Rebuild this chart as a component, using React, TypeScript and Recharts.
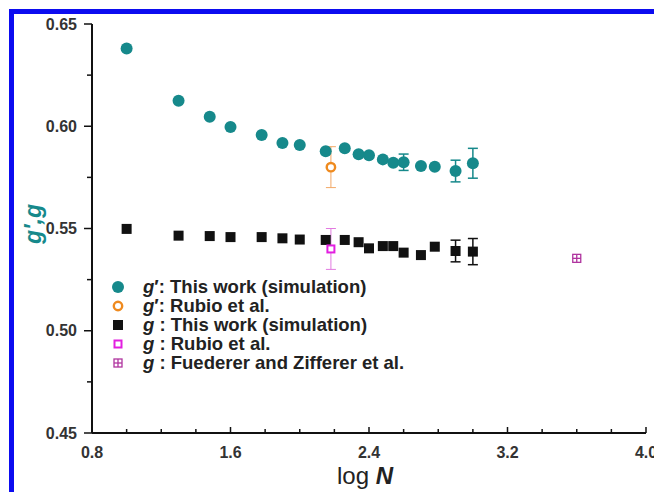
import React from "react";
import { ScatterChart, Scatter, XAxis, YAxis, ErrorBar, Legend } from "recharts";

// log N of the simulated chains
const logN = [1.0, 1.3, 1.48, 1.6, 1.78, 1.9, 2.0, 2.15, 2.26, 2.34, 2.4, 2.48, 2.54, 2.6, 2.7, 2.78, 2.9, 3.0];

// g' : this work (simulation)
const gPrimeSim = [0.638, 0.6125, 0.6046, 0.5996, 0.5957, 0.5918, 0.5908, 0.5878, 0.5892, 0.5863, 0.5858, 0.5838, 0.5822, 0.5824, 0.5806, 0.5802, 0.5781, 0.5819];
const gPrimeSimErr = [0, 0, 0, 0, 0, 0, 0, 0, 0, 0, 0, 0, 0, 0.004, 0, 0, 0.0053, 0.0073];

// g : this work (simulation)
const gSim = [0.5498, 0.5465, 0.5463, 0.5458, 0.5458, 0.5452, 0.5446, 0.5444, 0.5444, 0.5433, 0.5403, 0.5414, 0.5414, 0.5382, 0.537, 0.5411, 0.539, 0.5387];
const gSimErr = [0, 0, 0, 0, 0, 0, 0, 0, 0, 0, 0, 0, 0, 0, 0, 0, 0.0053, 0.0064];

// literature values
const rubioLogN = [2.18];
const rubioGPrime = [0.58];
const rubioGPrimeErr = [0.01];
const rubioG = [0.54];
const rubioGErr = [0.01];
const fuedererLogN = [3.6];
const fuedererG = [0.5354];

const xTicks = [0.8, 1.0, 1.2, 1.4, 1.6, 1.8, 2.0, 2.2, 2.4, 2.6, 2.8, 3.0, 3.2, 3.4, 3.6, 3.8, 4.0];
const yTicks = [0.45, 0.475, 0.5, 0.525, 0.55, 0.575, 0.6, 0.625, 0.65];

const TEAL = "#16898b";
const ORANGE = "#ef8a1e";
const MAGENTA = "#e21ee0";
const PURPLE = "#b0359f";
const FONT = "'Liberation Sans', Arial, sans-serif";

const toPoints = (xs: number[], ys: number[], errs?: number[]) =>
  xs.map((x, i) => ({ x, y: ys[i], err: errs && errs[i] ? errs[i] : undefined }));

const gPrimeData = toPoints(logN, gPrimeSim, gPrimeSimErr);
const gData = toPoints(logN, gSim, gSimErr);
const rubioGPrimeData = toPoints(rubioLogN, rubioGPrime, rubioGPrimeErr);
const rubioGData = toPoints(rubioLogN, rubioG, rubioGErr);
const fuedererData = toPoints(fuedererLogN, fuedererG);

const TealDot = (p: any) => <circle cx={p.cx} cy={p.cy} r={6} fill={TEAL} />;
const OpenCircle = (p: any) => (
  <circle cx={p.cx} cy={p.cy} r={4.2} fill="#fff" stroke={ORANGE} strokeWidth={2.4} />
);
const BlackSquare = (p: any) => <rect x={p.cx - 5} y={p.cy - 5} width={10} height={10} fill="#111" />;
const OpenSquare = (p: any) => (
  <rect x={p.cx - 3.5} y={p.cy - 3.5} width={7} height={7} fill="#fff" stroke={MAGENTA} strokeWidth={2} />
);
const CrossSquare = (p: any) => (
  <g stroke={PURPLE} strokeWidth={1.3} fill="#fff">
    <rect x={p.cx - 4} y={p.cy - 4} width={8} height={8} />
    <line x1={p.cx - 4} y1={p.cy} x2={p.cx + 4} y2={p.cy} />
    <line x1={p.cx} y1={p.cy - 4} x2={p.cx} y2={p.cy + 4} />
  </g>
);

const isMajor = (v: number, step: number) => Math.abs(v / step - Math.round(v / step)) < 1e-6;

const XTick = (p: any) => {
  const v = p.payload.value;
  const major = isMajor(v, 0.8);
  return (
    <g>
      <line x1={p.x} y1={p.y} x2={p.x} y2={p.y - (major ? 6 : 4)} stroke="#111" strokeWidth={1.5} />
      {major && (
        <text x={p.x} y={p.y + 25} textAnchor="middle" fontFamily={FONT} fontWeight="bold" fontSize={16} fill="#333">
          {v.toFixed(1)}
        </text>
      )}
    </g>
  );
};

const YTick = (p: any) => {
  const v = p.payload.value;
  const major = isMajor(v, 0.05);
  return (
    <g>
      <line x1={p.x} y1={p.y} x2={p.x - (major ? 8 : 5)} y2={p.y} stroke="#111" strokeWidth={1.5} />
      {major && (
        <text x={p.x - 15} y={p.y + 5.5} textAnchor="end" fontFamily={FONT} fontWeight="bold" fontSize={16} fill="#333">
          {v.toFixed(2)}
        </text>
      )}
    </g>
  );
};

const legendRows = [
  { sym: "tealDot", prime: "′", text: ": This work (simulation)" },
  { sym: "openCircle", prime: "′", text: ": Rubio et al." },
  { sym: "blackSquare", prime: "", text: " : This work (simulation)" },
  { sym: "openSquare", prime: "", text: " : Rubio et al." },
  { sym: "crossSquare", prime: "", text: " : Fuederer and Zifferer et al." },
];

const legendSymbol = (sym: string) => {
  const c = { cx: 7, cy: 7 };
  if (sym === "tealDot") return <TealDot {...c} />;
  if (sym === "openCircle") return <OpenCircle {...c} />;
  if (sym === "blackSquare") return <BlackSquare {...c} />;
  if (sym === "openSquare") return <OpenSquare {...c} />;
  return <CrossSquare {...c} />;
};

const renderLegend = () => (
  <div style={{ fontFamily: FONT, fontWeight: "bold", fontSize: 18.5, lineHeight: "19px", color: "#222" }}>
    {legendRows.map((r) => (
      <div key={r.text + r.sym} style={{ display: "flex", alignItems: "center", height: 19 }}>
        <svg width={14} height={14} style={{ marginRight: 18 }}>
          {legendSymbol(r.sym)}
        </svg>
        <span style={{ whiteSpace: "nowrap" }}>
          <i>g</i>
          {r.prime}
          {r.text}
        </span>
      </div>
    ))}
  </div>
);

export default function App() {
  return (
    <div style={{ position: "absolute", left: 0, top: 0, width: 654, height: 492, background: "#fff", overflow: "hidden" }}>
      <div style={{ position: "absolute", left: 9, top: 9, width: 5, height: 483, background: "#0c0cf0" }} />
      <div style={{ position: "absolute", left: 9, top: 9, width: 645, height: 5, background: "#0c0cf0" }} />
      <ScatterChart width={654} height={492} margin={{ top: 24, right: 8, bottom: 29, left: 32 }}>
        <XAxis
          dataKey="x"
          type="number"
          domain={[0.8, 4.0]}
          ticks={xTicks}
          interval={0}
          tickSize={0}
          tickMargin={0}
          tickLine={false}
          tick={<XTick />}
          height={30}
          axisLine={{ stroke: "#111", strokeWidth: 2 }}
        />
        <XAxis
          xAxisId="top"
          orientation="top"
          type="number"
          domain={[0.8, 4.0]}
          tick={false}
          tickLine={false}
          height={0}
          axisLine={{ stroke: "#111", strokeWidth: 2 }}
        />
        <YAxis
          dataKey="y"
          type="number"
          domain={[0.45, 0.65]}
          ticks={yTicks}
          interval={0}
          tickSize={0}
          tickMargin={0}
          tickLine={false}
          tick={<YTick />}
          width={60}
          axisLine={{ stroke: "#111", strokeWidth: 2 }}
        />
        <YAxis
          yAxisId="right"
          orientation="right"
          type="number"
          domain={[0.45, 0.65]}
          tick={false}
          tickLine={false}
          width={0}
          axisLine={{ stroke: "#111", strokeWidth: 2 }}
        />
        <Scatter data={gPrimeData} shape={TealDot} isAnimationActive={false}>
          <ErrorBar dataKey="err" direction="y" width={5} stroke={TEAL} strokeWidth={1.5} />
        </Scatter>
        <Scatter data={rubioGPrimeData} shape={OpenCircle} isAnimationActive={false}>
          <ErrorBar dataKey="err" direction="y" width={5} stroke="#f2a866" strokeWidth={1} />
        </Scatter>
        <Scatter data={gData} shape={BlackSquare} isAnimationActive={false}>
          <ErrorBar dataKey="err" direction="y" width={5} stroke="#111" strokeWidth={1.5} />
        </Scatter>
        <Scatter data={rubioGData} shape={OpenSquare} isAnimationActive={false}>
          <ErrorBar dataKey="err" direction="y" width={5} stroke="#e27ae0" strokeWidth={1} />
        </Scatter>
        <Scatter data={fuedererData} shape={CrossSquare} isAnimationActive={false} />
        <Legend
          layout="vertical"
          align="center"
          verticalAlign="middle"
          content={renderLegend}
          wrapperStyle={{ left: 111, top: 277, width: "auto" }}
        />
      </ScatterChart>
      <div
        style={{
          position: "absolute",
          left: 3,
          top: 211,
          width: 60,
          height: 26,
          lineHeight: "26px",
          textAlign: "center",
          transform: "rotate(-90deg)",
          fontFamily: FONT,
          fontWeight: "bold",
          fontStyle: "italic",
          fontSize: 23,
          color: TEAL,
        }}
      >
        g′,g
      </div>
      <div
        style={{
          position: "absolute",
          left: 265,
          top: 462,
          width: 200,
          textAlign: "center",
          fontFamily: FONT,
          fontSize: 24,
          color: "#222",
        }}
      >
        log <b><i>N</i></b>
      </div>
    </div>
  );
}
